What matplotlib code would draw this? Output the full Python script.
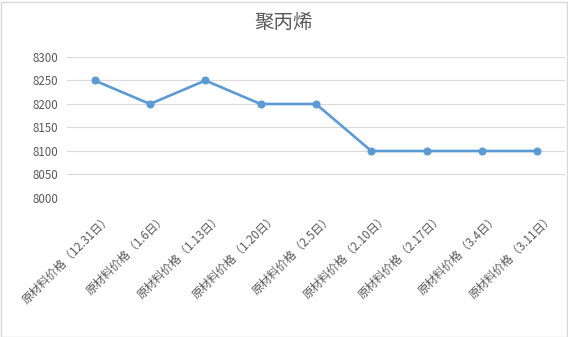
import matplotlib.pyplot as plt
import matplotlib.patches as patches
import matplotlib.transforms as mtransforms

plt.rcParams['font.family'] = ['Noto Sans CJK SC', 'DejaVu Sans']

# data
dates = ["12.31日", "1.6日", "1.13日", "1.20日", "2.5日", "2.10日", "2.17日", "3.4日", "3.11日"]
labels = ["原材料价格（" + d + "）" for d in dates]
prices = [8250, 8200, 8250, 8200, 8200, 8100, 8100, 8100, 8100]

text_color = "#595959"
grid_color = "#D9D9D9"
line_color = "#5B9BD5"

fig = plt.figure(figsize=(5.68, 3.37), dpi=100)
ax = fig.add_axes([67 / 568, 1 - 198 / 337, (565 - 67) / 568, (198 - 57) / 337])

x = list(range(len(prices)))
ax.plot(x, prices, color=line_color, linewidth=1.9, marker="o", markersize=4.8, zorder=3)

ax.set_ylim(8000, 8300)
ax.set_yticks(range(8000, 8301, 50))
ax.set_xlim(-0.5, 8.5)
ax.set_xticks(x)
ax.set_xticklabels(labels, rotation=45, ha="right", va="center", rotation_mode="anchor")

ax.grid(axis="y", color=grid_color, linewidth=0.8)
ax.set_axisbelow(True)
for s in ax.spines.values():
    s.set_visible(False)
ax.tick_params(axis="both", length=0, labelsize=8.3, labelcolor=text_color)
ax.tick_params(axis="y", pad=6.5)
ax.tick_params(axis="x", pad=8)

# shift rotated labels like excel does
offset = mtransforms.ScaledTranslation(15 / 100, -7 / 100, fig.dpi_scale_trans)
for lab in ax.get_xticklabels():
    lab.set_transform(lab.get_transform() + offset)

fig.text(0.5, 1 - 23 / 337, "聚丙烯", ha="center", va="center", fontsize=14, color=text_color)

# light border around the chart
fig.patches.append(patches.Rectangle((0.5 / 568, 0.5 / 337), 566 / 568, 335 / 337,
                                     transform=fig.transFigure, fill=False,
                                     edgecolor=grid_color, linewidth=1))

fig.savefig("out.png", dpi=100)
